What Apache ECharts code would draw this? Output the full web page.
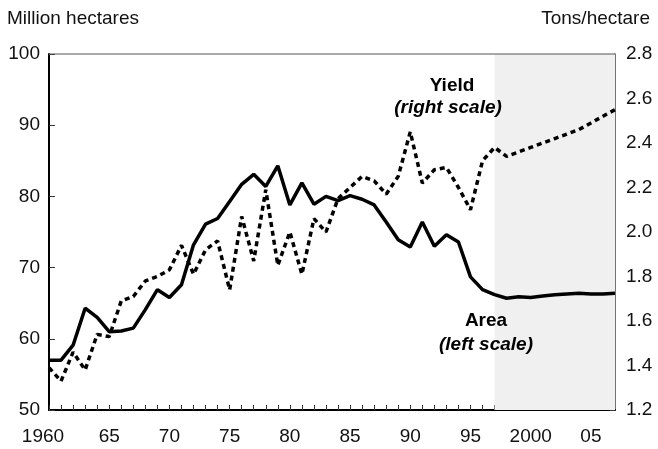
<!DOCTYPE html>
<html>
<head>
<meta charset="utf-8">
<title>Area and yield</title>
<script src="https://cdn.jsdelivr.net/npm/echarts@6/dist/echarts.min.js"></script>
<style>
  html, body { margin: 0; padding: 0; background: #fff; }
  #chart { width: 658px; height: 449px; }
</style>
</head>
<body>
<div id="chart"></div>
<script>
// years 1960 - 2007
var startYear = 1960;
var endYear = 2007;
var projStart = 1997;

// area, million hectares (left scale)
var area = [57.0, 57.0, 59.1, 64.3, 63.0, 61.0, 61.1, 61.5, 64.1, 66.9,
            65.8, 67.6, 73.2, 76.1, 76.9, 79.3, 81.7, 83.1, 81.4, 84.3,
            78.8, 81.9, 78.9, 80.0, 79.4, 80.1, 79.6, 78.8, 76.4, 73.9,
            72.9, 76.4, 73.0, 74.6, 73.6, 68.7, 66.9, 66.2, 65.7, 65.9,
            65.8, 66.0, 66.2, 66.3, 66.4, 66.3, 66.3, 66.4];

// yield, tons per hectare (right scale)
var yieldV = [1.39, 1.33, 1.46, 1.38, 1.54, 1.53, 1.69, 1.71, 1.78, 1.80,
              1.83, 1.94, 1.81, 1.92, 1.96, 1.74, 2.07, 1.87, 2.19, 1.85,
              2.00, 1.81, 2.06, 2.00, 2.15, 2.20, 2.25, 2.23, 2.17, 2.25,
              2.45, 2.22, 2.28, 2.29, 2.20, 2.10, 2.32, 2.38, 2.34, 2.36,
              2.38, 2.40, 2.42, 2.44, 2.46, 2.49, 2.52, 2.55];

var areaData = area.map(function (v, i) { return [startYear + i, v]; });
var yieldData = yieldV.map(function (v, i) { return [startYear + i, v]; });

var font = 'Liberation Sans, Arial, sans-serif';

var myChart = echarts.init(document.getElementById('chart'));
myChart.setOption({
    animation: false,
    grid: { left: 49, right: 43, top: 54, bottom: 39 },
    xAxis: {
        type: 'value',
        min: startYear,
        max: endYear,
        interval: 1,
        axisLine: { lineStyle: { color: '#000', width: 2 } },
        axisTick: { inside: true, length: 5, lineStyle: { color: '#333', width: 1 } },
        splitLine: { show: false },
        axisLabel: {
            margin: 17,
            color: '#111',
            fontSize: 19,
            fontFamily: font,
            showMaxLabel: false,
            formatter: function (v) {
                if (v % 5 !== 0) return '';
                if (v === 1960) return '{f|1960}';
                if (v === 2000) return '2000';
                return String(v).slice(2);
            },
            rich: { f: { fontSize: 19, fontFamily: font, color: '#111', padding: [0, 12, 0, 0] } }
        }
    },
    yAxis: [
        {
            type: 'value',
            min: 50,
            max: 100,
            interval: 10,
            axisLine: { show: true, lineStyle: { color: '#000', width: 2 } },
            axisTick: { show: true, inside: true, length: 6, lineStyle: { color: '#333' } },
            splitLine: { show: false },
            axisLabel: { margin: 9, color: '#111', fontSize: 19, fontFamily: font }
        },
        {
            type: 'value',
            min: 1.2,
            max: 2.8,
            interval: 0.2,
            position: 'right',
            axisLine: { show: true, lineStyle: { color: '#444', width: 1.5 } },
            axisTick: { show: true, inside: true, length: 5, lineStyle: { color: '#333' } },
            splitLine: { show: false },
            axisLabel: {
                margin: 11, color: '#111', fontSize: 19, fontFamily: font,
                formatter: function (v) { return v.toFixed(1); }
            }
        }
    ],
    series: [
        {
            // shaded projection period, drawn under the axes
            name: 'shade',
            type: 'line',
            data: [],
            z: -1,
            silent: true,
            markArea: {
                silent: true,
                itemStyle: { color: '#f0f0f0' },
                data: [[{ xAxis: projStart }, { xAxis: endYear }]]
            }
        },
        {
            name: 'Area',
            type: 'line',
            yAxisIndex: 0,
            data: areaData,
            symbol: 'none',
            z: 3,
            lineStyle: { color: '#000', width: 3.5 }
        },
        {
            name: 'Yield',
            type: 'line',
            yAxisIndex: 1,
            data: yieldData,
            symbol: 'none',
            z: 4,
            lineStyle: { color: '#000', width: 3.5, type: [5, 4] }
        }
    ],
    graphic: [
        // top border of the plot
        { type: 'line', z: 100, shape: { x1: 49, y1: 54, x2: 615, y2: 54 }, style: { stroke: '#555', lineWidth: 1 } },
        { type: 'text', z: 100, left: 7, top: 9, style: { text: 'Million hectares', font: '19px ' + font, fill: '#111' } },
        { type: 'text', z: 100, right: 8, top: 9, style: { text: 'Tons/hectare', font: '19px ' + font, fill: '#111' } },
        { type: 'text', z: 100, x: 452, y: 86, style: { text: 'Yield', font: 'bold 19px ' + font, fill: '#000', align: 'center', verticalAlign: 'middle' } },
        { type: 'text', z: 100, x: 448, y: 108, style: { text: '(right scale)', font: 'italic bold 19px ' + font, fill: '#000', align: 'center', verticalAlign: 'middle' } },
        { type: 'text', z: 100, x: 486, y: 321, style: { text: 'Area', font: 'bold 19px ' + font, fill: '#000', align: 'center', verticalAlign: 'middle' } },
        { type: 'text', z: 100, x: 486, y: 345, style: { text: '(left scale)', font: 'italic bold 19px ' + font, fill: '#000', align: 'center', verticalAlign: 'middle' } }
    ]
});
</script>
</body>
</html>
